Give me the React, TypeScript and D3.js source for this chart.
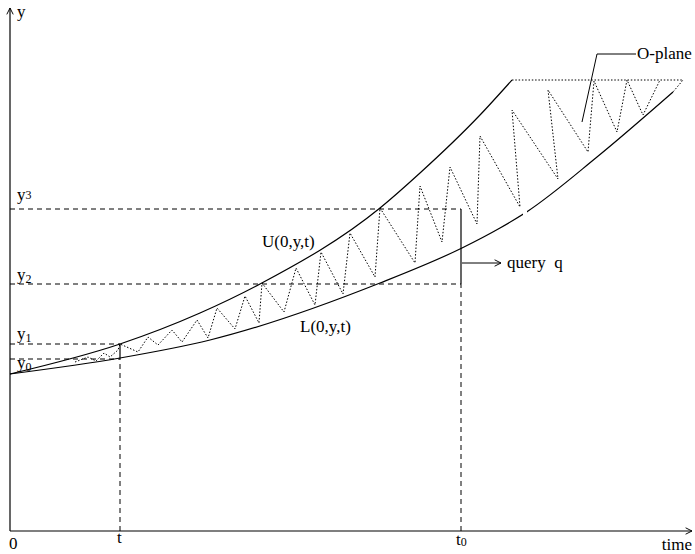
import React from 'react';
import * as d3 from 'd3';

// data units: time (x) and y
const upperCurve: [number, number][] = [
  [0, 157], [110, 187], [190, 218], [250, 247], [370, 323], [410, 358], [470, 416], [502, 451],
];
const lowerCurve: [number, number][] = [
  [0, 157], [110, 173], [200, 191], [370, 248], [452, 283], [490, 303], [515, 318], [587, 374], [663, 439],
];
const lowerGap: [number, number] = [513, 517];
const oPlaneZigzag: [number, number][] = [
  [65, 169], [78, 174], [86, 170], [94, 178], [100, 174], [108, 181], [110, 187], [128, 179],
  [138, 194], [148, 186], [162, 201], [172, 189], [187, 211], [198, 193], [207, 223], [225, 202],
  [235, 235], [249, 208], [252, 248], [274, 219], [286, 263], [305, 226], [311, 279], [333, 237],
  [340, 298], [365, 254], [370, 323], [405, 268], [410, 345], [432, 289], [440, 364], [467, 307],
  [470, 395], [510, 324], [502, 421], [548, 352], [538, 441], [578, 379], [584, 450], [607, 399],
  [617, 451], [633, 416], [650, 451],
];
const oPlaneTop: [number, number][] = [[502, 451], [673, 451], [663, 439]];
const oPlaneLeader: [number, number][] = [[572, 409], [587, 477], [626, 477]];

const yNames = ['y', 'y', 'y', 'y'];
const ySubs = ['0', '1', '2', '3'];
const yValues = [172, 187, 247, 322];
const yExtents = [110, 110, 451, 451];

const tValue = 110;
const t0Value = 451;
const queryLevel = 268;
const queryArrowEnd = 491;

const W = 695;
const H = 554;
const FONT = '"Liberation Serif", "Times New Roman", serif';

export default function App() {
  const x = d3.scaleLinear().domain([0, 680]).range([10, 690]);
  const y = d3.scaleLinear().domain([0, 520]).range([531, 11]);

  const smooth = d3
    .line<[number, number]>()
    .x((d) => x(d[0]))
    .y((d) => y(d[1]))
    .curve(d3.curveMonotoneX);
  const straight = d3
    .line<[number, number]>()
    .x((d) => x(d[0]))
    .y((d) => y(d[1]));

  const yLabelOffsets = [9, -5, -4, -9];

  return (
    <svg
      width={W}
      height={H}
      style={{ position: 'absolute', left: 0, top: 0, background: '#fff' }}
      fontFamily={FONT}
    >
      <defs>
        <marker id="arr" viewBox="0 0 10 10" refX="9" refY="5" markerWidth="8" markerHeight="8" orient="auto" markerUnits="userSpaceOnUse">
          <path d="M1,1 L9,5 L1,9" fill="none" stroke="#000" strokeWidth={1.2} />
        </marker>
        <clipPath id="clipL1">
          <rect x={0} y={0} width={x(lowerGap[0])} height={H} />
        </clipPath>
        <clipPath id="clipL2">
          <rect x={x(lowerGap[1])} y={0} width={W} height={H} />
        </clipPath>
      </defs>

      {/* axes */}
      <line x1={x(0)} y1={y(0)} x2={x(0)} y2={8} stroke="#000" strokeWidth={1.2} markerEnd="url(#arr)" />
      <line x1={x(0)} y1={y(0)} x2={692} y2={y(0)} stroke="#000" strokeWidth={1.2} markerEnd="url(#arr)" />

      {/* horizontal dashed levels */}
      {yValues.map((v, i) => (
        <line key={'h' + i} x1={x(0)} y1={y(v)} x2={x(yExtents[i])} y2={y(v)} stroke="#000" strokeWidth={1} strokeDasharray="5,4" />
      ))}

      {/* vertical at t */}
      <line x1={x(tValue)} y1={y(0)} x2={x(tValue)} y2={y(yValues[0])} stroke="#000" strokeWidth={1} strokeDasharray="5,4" />
      <line x1={x(tValue)} y1={y(yValues[0])} x2={x(tValue)} y2={y(yValues[1])} stroke="#000" strokeWidth={1.2} />
      {/* vertical at t0 */}
      <line x1={x(t0Value)} y1={y(0)} x2={x(t0Value)} y2={y(yValues[2])} stroke="#000" strokeWidth={1} strokeDasharray="5,4" />
      <line x1={x(t0Value)} y1={y(yValues[2])} x2={x(t0Value)} y2={y(yValues[3])} stroke="#000" strokeWidth={1.2} />

      {/* query arrow */}
      <line x1={x(t0Value) + 1} y1={y(queryLevel)} x2={x(queryArrowEnd)} y2={y(queryLevel)} stroke="#000" strokeWidth={1} markerEnd="url(#arr)" />

      {/* curves */}
      <path d={smooth(upperCurve) || ''} fill="none" stroke="#000" strokeWidth={1.2} />
      <path d={smooth(lowerCurve) || ''} fill="none" stroke="#000" strokeWidth={1.2} clipPath="url(#clipL1)" />
      <path d={smooth(lowerCurve) || ''} fill="none" stroke="#000" strokeWidth={1.2} clipPath="url(#clipL2)" />

      {/* O-plane zigzag */}
      <path d={straight(oPlaneZigzag) || ''} fill="none" stroke="#000" strokeWidth={1} strokeDasharray="1.5,1.8" />
      <path d={straight(oPlaneTop) || ''} fill="none" stroke="#000" strokeWidth={1} strokeDasharray="1.5,1.8" />
      <path d={straight(oPlaneLeader) || ''} fill="none" stroke="#000" strokeWidth={1} />

      {/* labels */}
      <g fontSize={17} fill="#000">
        <text x={x(0) + 7} y={17}>y</text>
        {yValues.map((v, i) => (
          <text key={'yl' + i} x={x(0) + 7} y={y(v) + yLabelOffsets[i]}>
            {yNames[i]}
            <tspan fontSize={12} dy={i === 3 ? -1 : 3}>{ySubs[i]}</tspan>
          </text>
        ))}
        <text x={9} y={549}>0</text>
        <text x={x(tValue) - 3} y={543}>t</text>
        <text x={x(t0Value) - 5} y={545}>
          t<tspan fontSize={12} dy={1}>0</tspan>
        </text>
        <text x={692} y={550} textAnchor="end">time</text>
        <text x={262} y={247}>U(0,y,t)</text>
        <text x={300} y={332}>L(0,y,t)</text>
        <text x={x(queryArrowEnd) + 6} y={y(queryLevel) + 5}>query{'\u00a0'} q</text>
        <text x={x(oPlaneLeader[2][0]) + 1} y={y(oPlaneLeader[2][1]) + 5}>O-plane</text>
      </g>
    </svg>
  );
}
